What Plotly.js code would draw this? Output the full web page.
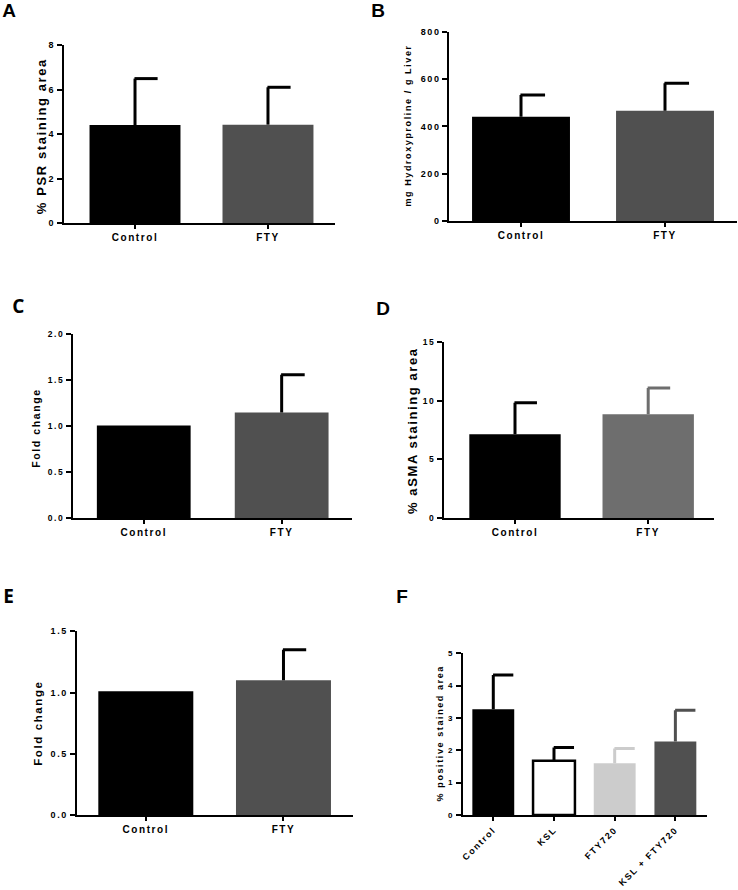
<!DOCTYPE html>
<html>
<head>
<meta charset="utf-8">
<script src="https://cdn.plot.ly/plotly-3.0.1.min.js"></script>
<style>
html,body{margin:0;padding:0;background:#fff;}
#chart{width:738px;height:890px;}
</style>
</head>
<body>
<div id="chart"></div>
<script>
// ---- data ----
const catsTwo = ['Control', 'FTY'];
const psrMean = [4.40, 4.42];
const psrErr = [2.09, 1.68];
const hypMean = [441, 466];
const hypErr = [92, 116];
const foldCMean = [1.01, 1.15];
const foldCErr = [0, 0.41];
const asmaMean = [7.13, 8.83];
const asmaErr = [2.69, 2.24];
const foldEMean = [1.01, 1.10];
const foldEErr = [0, 0.25];
const catsF = ['Control', 'KSL', 'FTY720', 'KSL + FTY720'];
const posMean = [3.27, 1.68, 1.60, 2.27];
const posErr = [1.06, 0.41, 0.46, 0.97];

const W = 738, H = 890;
const FONT = 'Liberation Sans, Arial, sans-serif';

const panels = [
  {letter:'A', cats:catsTwo, mean:psrMean, err:psrErr, title:'% PSR staining area',
   box:[64,335,45,223], xr:[-0.534,1.504], yr:[0,8], dtick:2, fmt:'',
   fill:['#000000','#505050'], lineW:[0,0], errC:['#000000','#000000'], cap:0.17,
   ytf:9, xtf:10, titleAt:[42,136], titleSize:13, letterAt:[10,11], letterFont:FONT, barW:0.684},
  {letter:'B', cats:catsTwo, mean:hypMean, err:hypErr, title:'mg Hydroxyproline / g Liver',
   box:[449.3,737,31.7,221], xr:[-0.498,1.5], yr:[0,800], dtick:200, fmt:'',
   fill:['#000000','#505050'], lineW:[0,0], errC:['#000000','#000000'], cap:0.167,
   ytf:9, xtf:10, titleAt:[408,125], titleSize:9, letterAt:[379,11], letterFont:FONT, barW:0.68},
  {letter:'C', cats:catsTwo, mean:foldCMean, err:foldCErr, title:'Fold change',
   box:[73,352,334.3,518.3], xr:[-0.513,1.51], yr:[0,2], dtick:0.5, fmt:'.1f',
   fill:['#000000','#505050'], lineW:[0,0], errC:['#000000','#000000'], cap:0.167,
   ytf:8.5, xtf:10, titleAt:[36,428], titleSize:10.5, letterAt:[19,306], letterFont:'Open Sans, sans-serif', barW:0.68},
  {letter:'D', cats:catsTwo, mean:asmaMean, err:asmaErr, title:'% aSMA staining area',
   box:[444,714,341.7,518.3], xr:[-0.533,1.494], yr:[0,15], dtick:5, fmt:'',
   fill:['#000000','#6e6e6e'], lineW:[0,0], errC:['#000000','#6e6e6e'], cap:0.165,
   ytf:8.5, xtf:10, titleAt:[412,431], titleSize:13, letterAt:[384,308], letterFont:FONT, barW:0.686},
  {letter:'E', cats:catsTwo, mean:foldEMean, err:foldEErr, title:'Fold change',
   box:[76.7,353,631.3,815], xr:[-0.502,1.505], yr:[0,1.5], dtick:0.5, fmt:'.1f',
   fill:['#000000','#505050'], lineW:[0,0], errC:['#000000','#000000'], cap:0.165,
   ytf:9, xtf:10, titleAt:[38,723], titleSize:11.5, letterAt:[9,596], letterFont:'Open Sans, sans-serif', barW:0.69},
  {letter:'F', cats:catsF, mean:posMean, err:posErr, title:'% positive stained area',
   box:[462.7,706.7,653.3,815], xr:[-0.504,3.516], yr:[0,5], dtick:1, fmt:'',
   fill:['#000000','#ffffff','#cccccc','#505050'], lineW:[0,2.5,0,0], errC:['#000000','#000000','#cccccc','#505050'], cap:0.33,
   ytf:8, xtf:9, titleAt:[440,733], titleSize:9, letterAt:[403,596], letterFont:FONT, barW:0.69, rot:-45}
];

const data = [];
const layout = {
  width: W, height: H,
  margin: {l:0, r:0, t:0, b:0},
  paper_bgcolor: '#ffffff', plot_bgcolor: 'rgba(0,0,0,0)',
  showlegend: false,
  font: {family: FONT, color: '#000000'},
  annotations: []
};

panels.forEach((p, k) => {
  const n = k + 1;
  const xa = 'x' + (n === 1 ? '' : n), ya = 'y' + (n === 1 ? '' : n);
  const xk = 'xaxis' + (n === 1 ? '' : n), yk = 'yaxis' + (n === 1 ? '' : n);
  const idx = p.cats.map((c, i) => i);
  data.push({
    type: 'bar', x: idx, y: p.mean, width: p.barW,
    marker: {color: p.fill, line: {color: '#000000', width: p.lineW}},
    xaxis: xa, yaxis: ya, hoverinfo: 'skip'
  });
  idx.forEach(i => {
    if (p.err[i] > 0) {
      const top = p.mean[i] + p.err[i];
      data.push({
        type: 'scatter', mode: 'lines',
        x: [i, i, null, i - 0.004, i + p.cap],
        y: [p.mean[i], top, null, top, top],
        line: {color: p.errC[i], width: 3},
        xaxis: xa, yaxis: ya, hoverinfo: 'skip'
      });
    }
  });
  const [xl, xr, yt, yb] = p.box;
  layout[xk] = {
    domain: [xl / W, xr / W], range: p.xr, anchor: ya,
    tickvals: idx, ticktext: p.cats, tickangle: p.rot || 0,
    showline: true, linecolor: '#000', linewidth: 2,
    ticks: 'outside', ticklen: 4, tickwidth: 2, tickcolor: '#000',
    showgrid: false, zeroline: false, fixedrange: true,
    tickfont: {family: FONT, size: p.xtf, weight: 'bold', color: '#000'}
  };
  layout[yk] = {
    domain: [1 - yb / H, 1 - yt / H], range: p.yr, anchor: xa,
    dtick: p.dtick, tick0: 0, tickformat: p.fmt,
    showline: true, linecolor: '#000', linewidth: 2,
    ticks: 'outside', ticklen: 5, tickwidth: 2, tickcolor: '#000',
    showgrid: false, zeroline: false, fixedrange: true,
    tickfont: {family: FONT, size: p.ytf, weight: 'bold', color: '#000'}
  };
  layout.annotations.push({
    xref: 'paper', yref: 'paper', x: p.titleAt[0] / W, y: 1 - p.titleAt[1] / H,
    xanchor: 'center', yanchor: 'middle', textangle: -90, showarrow: false,
    text: p.title, font: {family: FONT, size: p.titleSize, weight: 'bold', color: '#000'}
  });
  layout.annotations.push({
    xref: 'paper', yref: 'paper', x: p.letterAt[0] / W, y: 1 - p.letterAt[1] / H,
    xanchor: 'center', yanchor: 'middle', showarrow: false,
    text: p.letter, font: {family: p.letterFont, size: 19, weight: 'bold', color: '#000'}
  });
});

function spaceText() {
  document.querySelectorAll('#chart svg text').forEach(t => {
    t.setAttribute('letter-spacing', '1.6');
    t.style.letterSpacing = '1.6px';
  });
}

Plotly.newPlot('chart', data, layout, {staticPlot: true, displayModeBar: false}).then(spaceText);
</script>
</body>
</html>
